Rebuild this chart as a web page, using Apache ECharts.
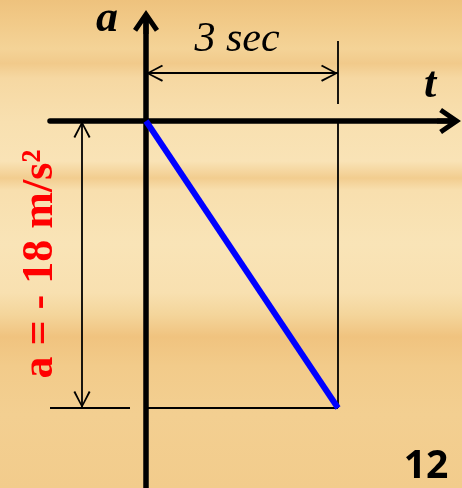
<!DOCTYPE html>
<html>
<head>
<meta charset="utf-8">
<script src="https://cdn.jsdelivr.net/npm/echarts@6/dist/echarts.min.js"></script>
<style>
html,body{margin:0;padding:0;background:#f6d9a3;}
#chart{width:462px;height:488px;}
</style>
</head>
<body>
<div id="chart"></div>
<script>
// ---- data ----
const times = [0, 3];          // t (s)
const accel = [0, -18];        // a (m/s^2)
const axisNameX = 't';
const axisNameY = 'a';
const durationLabel = '3 sec';
const accelLabel = 'a = - 18 m/s²';
const pageNumber = '12';

// ---- shapes ----
const axisArrow = 'path://M13,0 L26,19 L21.9,21.8 L15.5,12.4 L15.5,24 L10.5,24 L10.5,12.4 L4.1,21.8 L0,19 Z';
const dimArrow = 'path://M9,17 L17.5,33 L15.8,34 L9,20.4 L2.2,34 L0.5,33 Z M9,0';

const chart = echarts.init(document.getElementById('chart'), null, {renderer: 'canvas'});

const t0 = times[0], t1 = times[1];
const aEnd = accel[1];
const dimY = 3;        // height of the duration dimension line (axis units)
const dimX = -1;       // position of the acceleration dimension line
function seg(p, q, sym) {
  return [
    {coord: p, symbol: sym ? undefined : 'none'},
    {coord: q, symbol: sym ? undefined : 'none'}
  ];
}

const option = {
  animation: false,
  grid: {left: 50, top: 22, width: 399, height: 481.7, containLabel: false, outerBoundsMode: 'none'},
  xAxis: {
    type: 'value', min: -1.5, max: 4.734,
    axisLine: {onZero: true, lineStyle: {color: '#000', width: 5.5},
      symbol: ['none', axisArrow], symbolSize: [26, 24]},
    axisTick: {show: false}, axisLabel: {show: false}, splitLine: {show: false}
  },
  yAxis: {
    type: 'value', min: -24, max: 6.209,
    axisLine: {onZero: true, lineStyle: {color: '#000', width: 5.5},
      symbol: ['none', axisArrow], symbolSize: [26, 24]},
    axisTick: {show: false}, axisLabel: {show: false}, splitLine: {show: false}
  },
  graphic: [
    {type: 'rect', z: -100, silent: true, shape: {x: 0, y: 0, width: 462, height: 488},
      style: {fill: {type: 'linear', x: 0, y: 0, x2: 0, y2: 1, colorStops: [
        {offset: 0.00, color: '#eec27d'},
        {offset: 0.04, color: '#f1c987'},
        {offset: 0.10, color: '#f4d397'},
        {offset: 0.13, color: '#f1ca8b'},
        {offset: 0.16, color: '#f6d8a2'},
        {offset: 0.25, color: '#f8e0b0'},
        {offset: 0.33, color: '#f9e3b6'},
        {offset: 0.365, color: '#f2cd8f'},
        {offset: 0.39, color: '#f8dfae'},
        {offset: 0.50, color: '#f9e4b7'},
        {offset: 0.60, color: '#f8e0b0'},
        {offset: 0.645, color: '#f4d59b'},
        {offset: 0.69, color: '#f0c37f'},
        {offset: 0.75, color: '#f2cb8a'},
        {offset: 0.85, color: '#f3cf91'},
        {offset: 1.00, color: '#f2cc8c'}
      ]}}},
    {type: 'text', z: 50, x: 107, y: 20, silent: true,
      style: {text: axisNameY, font: 'italic bold 44px "Liberation Serif"', fill: '#000', align: 'center', verticalAlign: 'middle'}},
    {type: 'text', z: 50, x: 430, y: 86, silent: true,
      style: {text: axisNameX, font: 'italic bold 44px "Liberation Serif"', fill: '#000', align: 'center', verticalAlign: 'middle'}},
    {type: 'text', z: 50, x: 237, y: 40, silent: true,
      style: {text: durationLabel, font: 'italic 42px "Liberation Serif"', fill: '#000', align: 'center', verticalAlign: 'middle'}},
    {type: 'text', z: 50, x: 41, y: 264, rotation: Math.PI / 2, silent: true,
      style: {text: accelLabel, font: 'bold 44px "Liberation Serif"', fill: '#ff0000', align: 'center', verticalAlign: 'middle'}},
    {type: 'text', z: 50, x: 426, y: 467, silent: true,
      style: {text: pageNumber, font: 'bold 39px "Open Sans"', fill: '#000', align: 'center', verticalAlign: 'middle'}}
  ],
  series: [
    {
      type: 'line', z: 3,
      data: times.map((t, i) => [t, accel[i]]),
      showSymbol: false, symbol: 'none', silent: true,
      lineStyle: {color: '#0000ff', width: 6},
      markLine: {
        z: 1, silent: true, animation: false,
        symbol: [dimArrow, dimArrow], symbolSize: [17, 34],
        label: {show: false},
        lineStyle: {color: '#000', width: 1.8, type: 'solid'},
        emphasis: {disabled: true},
        data: [
          seg([t0, dimY], [t1, dimY], true),
          seg([dimX, 0], [dimX, aEnd], true),
          seg([t1, 5.02], [t1, 1.07], false),
          seg([t1, 0], [t1, aEnd], false),
          seg([-1.5, aEnd], [-0.25, aEnd], false),
          seg([t0, aEnd], [t1, aEnd], false)
        ]
      }
    }
  ]
};
chart.setOption(option);
</script>
</body>
</html>
